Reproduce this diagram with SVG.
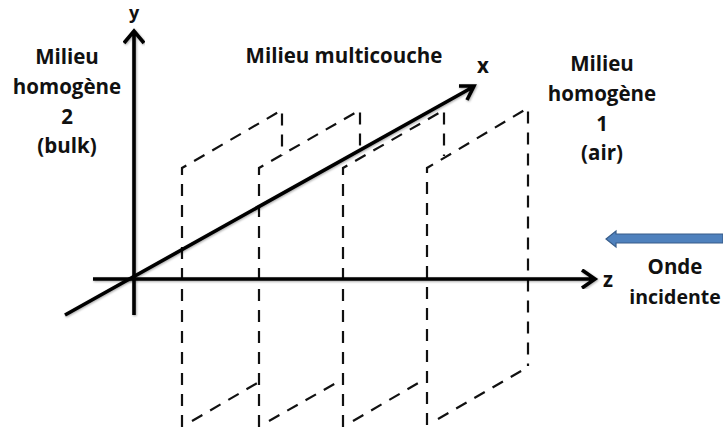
<svg xmlns="http://www.w3.org/2000/svg" width="723" height="432" viewBox="0 0 723 432">
<style>
text{font-family:"Open Sans","Noto Sans",sans-serif;font-weight:700;font-size:20.5px;fill:#111;text-anchor:middle}
.d{fill:none;stroke:#111;stroke-width:2.2;stroke-dasharray:12 9}
.a{fill:none;stroke:#000;stroke-width:3.6;filter:url(#s)}
</style>
<defs><filter id="s" x="-5%" y="-5%" width="110%" height="110%"><feDropShadow dx="0.8" dy="1" stdDeviation="0.9" flood-color="#000" flood-opacity="0.35"/></filter></defs>
<rect width="723" height="432" fill="#fff"/>
<g id="planes">
<path class="d" d="M182 427V168L282 110V156"/>
<path class="d" d="M192 421L259 382"/>
<path class="d" d="M259 427V168L360 110V152"/>
<path class="d" d="M269 421L336 383"/>
<path class="d" d="M343 427V168L444 110V156"/>
<path class="d" d="M353 421L420 382"/>
<path class="d" d="M427 425V168L528 108V366"/>
<path class="d" d="M438 419L528 367"/>
</g>
<g id="connectors">
<path class="a" d="M134 315V32M124 43L134 31L144 43"/>
<path class="a" d="M93 279H594M582 270L595 279L582 288"/>
<path class="a" d="M65 315L473 87M459 86L474 86L467 100"/>
<path d="M723 234H616V231L606 239L616 247V243H723Z" fill="#4f81bd" stroke="#385d8a" stroke-width="1.2"/>
</g>
<g id="label-y"><text x="134" y="19" style="font-size:18px">y</text></g>
<g id="label-z"><text x="608" y="287">z</text></g>
<g id="label-x"><text x="483" y="73">x</text></g>
<g id="milieu-2"><text x="67" y="64">Milieu</text><text x="67" y="94">homogène</text><text x="67" y="124">2</text><text x="67" y="153">(bulk)</text></g>
<g id="milieu-multicouche"><text x="344" y="63">Milieu multicouche</text></g>
<g id="milieu-1"><text x="602" y="71">Milieu</text><text x="602" y="101">homogène</text><text x="602" y="131">1</text><text x="602" y="160">(air)</text></g>
<g id="onde"><text x="675" y="274">Onde</text><text x="675" y="304" style="font-size:19.5px">incidente</text></g>
</svg>
